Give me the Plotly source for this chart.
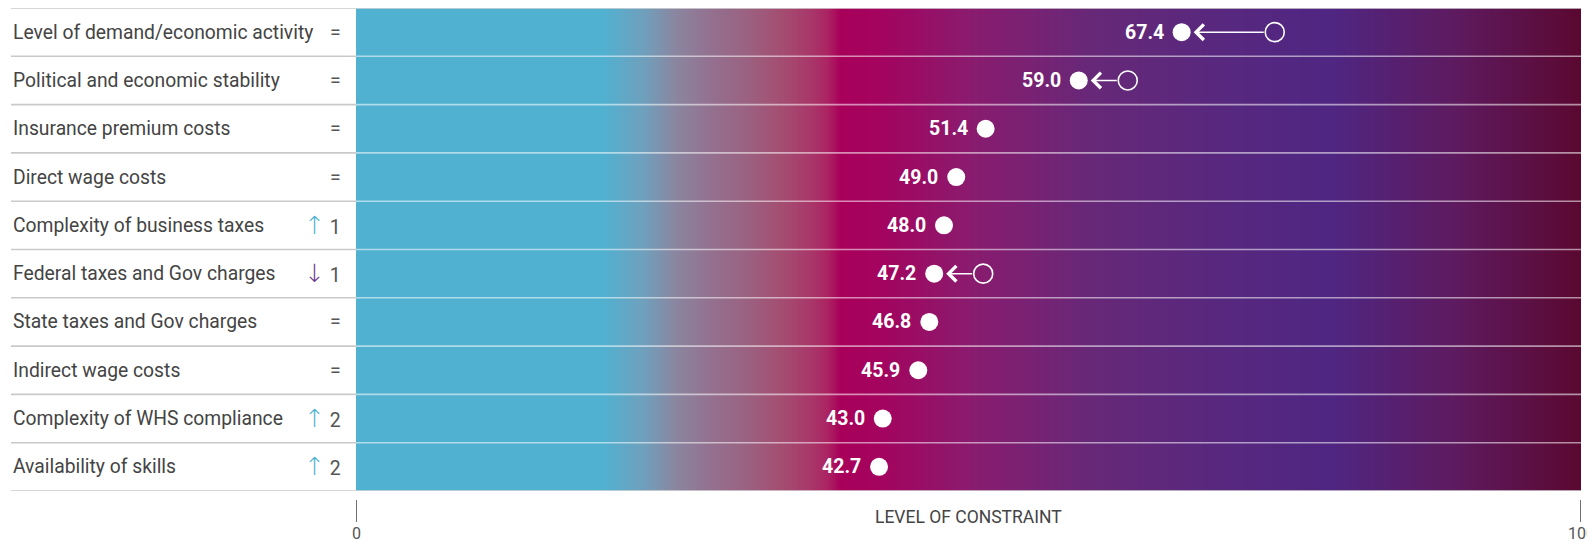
import numpy as np
import plotly.graph_objects as go

# ---------------- data ----------------
factors = [
    "Level of demand/economic activity",
    "Political and economic stability",
    "Insurance premium costs",
    "Direct wage costs",
    "Complexity of business taxes",
    "Federal taxes and Gov charges",
    "State taxes and Gov charges",
    "Indirect wage costs",
    "Complexity of WHS compliance",
    "Availability of skills",
]
current = [67.4, 59.0, 51.4, 49.0, 48.0, 47.2, 46.8, 45.9, 43.0, 42.7]
previous = [75.0, 63.0, None, None, None, 51.2, None, None, None, None]
rank_change = [0, 0, 0, 0, 1, -1, 0, 0, 2, 2]
tick_vals = [0, 100]
tick_text = ["0", "100"]
axis_title = "LEVEL OF CONSTRAINT"

# ---------------- layout constants ----------------
W, H = 1595, 541
OFF = 8                      # page body margin
PLOT_L, PLOT_R = 356, 1581   # screen px of plot area
PLOT_T, PLOT_B = 8, 491
ML = PLOT_L - OFF
MT = PLOT_T - OFF
MR = W - (PLOT_R - OFF)
MB = H - (PLOT_B - OFF)
PW = PLOT_R - PLOT_L
PH = PLOT_B - PLOT_T


def sx(px):
    return (px - PLOT_L) / PW


def sy(py):
    return 1 - (py - PLOT_T) / PH


n = len(factors)
rows = list(range(n))

colorscale = [
    [0.000, "#50b1d1"],
    [0.200, "#50b1d1"],
    [0.234, "#6fa0bd"],
    [0.260, "#8a86a0"],
    [0.290, "#94708f"],
    [0.316, "#9a6383"],
    [0.344, "#a35072"],
    [0.370, "#a8386a"],
    [0.385, "#ab2362"],
    [0.395, "#a8005a"],
    [0.430, "#a3045f"],
    [0.500, "#8a1b6e"],
    [0.600, "#672878"],
    [0.700, "#58287e"],
    [0.795, "#4f2682"],
    [0.900, "#5e1a5e"],
    [1.000, "#5a0830"],
]

fig = go.Figure()

# gradient background
xe = np.linspace(0, 100, 501)
xm = (xe[:-1] + xe[1:]) / 2
fig.add_trace(go.Heatmap(
    x=xe, y=[-0.5, n - 0.5], z=[xm],
    colorscale=colorscale, zmin=0, zmax=100,
    showscale=False, hoverinfo="skip", zsmooth="best",
))

# previous-value open circles
prev_rows = [i for i in rows if previous[i] is not None]
fig.add_trace(go.Scatter(
    x=[previous[i] for i in prev_rows], y=prev_rows, mode="markers",
    marker=dict(size=19, color="rgba(0,0,0,0)", line=dict(color="white", width=1.6)),
    hoverinfo="skip", showlegend=False,
))

# current-value dots
fig.add_trace(go.Scatter(
    x=current, y=rows, mode="markers",
    marker=dict(size=18, color="white", line=dict(width=0)),
    hoverinfo="skip", showlegend=False,
))

shapes = []
# row separators
for k in range(n + 1):
    yv = k - 0.5
    shapes.append(dict(type="line", xref="paper", yref="y",
                       x0=sx(11), x1=0, y0=yv, y1=yv,
                       line=dict(color="#c9c9c9", width=1.6)))
    col = "rgba(255,255,255,0.55)" if 0 < k < n else "rgba(215,215,215,1)"
    shapes.append(dict(type="line", xref="paper", yref="y",
                       x0=0, x1=1, y0=yv, y1=yv,
                       line=dict(color=col, width=1.6)))
# tick marks
for tv in tick_vals:
    shapes.append(dict(type="line", xref="x", yref="paper",
                       x0=tv, x1=tv, y0=sy(500), y1=sy(522),
                       line=dict(color="#222", width=1.3)))

annotations = []
FONT = "Roboto, 'Open Sans', sans-serif"
ARROW_SPAN = ('<span style="font-family:\'DejaVu Sans\';font-size:25px;'
              'font-weight:200;color:%s">%s</span> %d')
for i in rows:
    annotations.append(dict(
        xref="paper", yref="y", x=sx(11), y=i,
        xanchor="left", yanchor="middle", showarrow=False,
        text=factors[i], font=dict(family=FONT, size=19.3, color="#444")))
    rc = rank_change[i]
    if rc == 0:
        t = "="
    elif rc > 0:
        t = ARROW_SPAN % ("#4fb1d0", "↑", rc)
    else:
        t = ARROW_SPAN % ("#6b3a8e", "↓", -rc)
    annotations.append(dict(
        xref="paper", yref="y", x=sx(343), y=i,
        xanchor="right", yanchor="middle", showarrow=False,
        text=t, font=dict(family=FONT, size=19.5, color="#555")))
    # value label
    annotations.append(dict(
        xref="x", yref="y", x=current[i], y=i, xshift=-16,
        xanchor="right", yanchor="middle", showarrow=False,
        text="<b>%.1f</b>" % current[i],
        font=dict(family=FONT, size=19.5, color="white")))
    # arrow from previous to current
    if previous[i] is not None:
        annotations.append(dict(
            xref="x", yref="y", x=current[i], y=i,
            axref="x", ayref="y", ax=previous[i], ay=i,
            text="", showarrow=True, arrowhead=4, arrowsize=2.0,
            arrowwidth=1.5, arrowcolor="white",
            standoff=12, startstandoff=9.5))

for tv, tt in zip(tick_vals, tick_text):
    annotations.append(dict(
        xref="x", yref="paper", x=tv, y=sy(533),
        xanchor="center", yanchor="middle", showarrow=False,
        text=tt, font=dict(family=FONT, size=16, color="#555")))
annotations.append(dict(
    xref="paper", yref="paper", x=0.5, y=sy(517),
    xanchor="center", yanchor="middle", showarrow=False,
    text=axis_title, font=dict(family=FONT, size=17.5, color="#444")))

fig.update_layout(
    width=W, height=H,
    margin=dict(l=ML, r=MR, t=MT, b=MB),
    paper_bgcolor="white", plot_bgcolor="white",
    showlegend=False,
    xaxis=dict(range=[0, 100], visible=False, fixedrange=True),
    yaxis=dict(range=[n - 0.5, -0.5], visible=False, fixedrange=True),
    shapes=shapes, annotations=annotations,
)

fig.write_html("out.html")
